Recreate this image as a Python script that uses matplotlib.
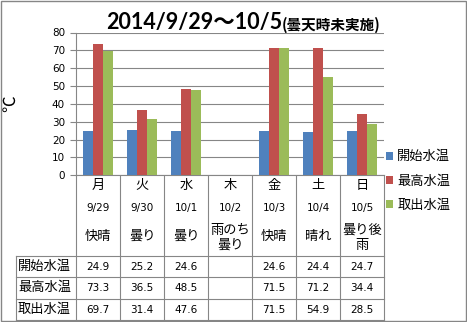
import numpy as np
import matplotlib.pyplot as plt
import matplotlib.transforms as mtransforms

plt.rcParams['font.family'] = ['Noto Sans CJK JP', 'DejaVu Sans']

# 2014/9/29 - 10/5 water temperatures (Thursday not measured)
days = ['月', '火', '水', '木', '金', '土', '日']
dates = ['9/29', '9/30', '10/1', '10/2', '10/3', '10/4', '10/5']
weather = ['快晴', '曇り', '曇り', '雨のち\n曇り', '快晴', '晴れ', '曇り後\n雨']
series_names = ['開始水温', '最高水温', '取出水温']
start_temp = [24.9, 25.2, 24.6, np.nan, 24.6, 24.4, 24.7]
max_temp = [73.3, 36.5, 48.5, np.nan, 71.5, 71.2, 34.4]
out_temp = [69.7, 31.4, 47.6, np.nan, 71.5, 54.9, 28.5]
colors = ['#4F81BD', '#C0504D', '#9BBB59']
yticks = [0, 10, 20, 30, 40, 50, 60, 70, 80]

W, H = 467, 322
grey = '#868686'
jp = 9.5   # japanese text size
num = 7.5  # number size

fig = plt.figure(figsize=(W / 100, H / 100), dpi=100)

# overlay in pixel coordinates for table, border and titles
ov = fig.add_axes([0, 0, 1, 1])
ov.set_xlim(0, W)
ov.set_ylim(H, 0)
ov.axis('off')

x0, x1, ytop, ybot = 76, 384, 32.5, 175.3
ax = fig.add_axes([x0 / W, 1 - ybot / H, (x1 - x0) / W, (ybot - ytop) / H])

x = np.arange(len(days))
w = 0.22
bars = []
for i, (vals, c) in enumerate(zip([start_temp, max_temp, out_temp], colors)):
    bars.append(ax.bar(x + (i - 1) * w, vals, w, color=c, zorder=3))

ax.set_xlim(-0.5, len(days) - 0.5)
ax.set_ylim(0, 80)
ax.set_yticks(yticks)
ax.set_xticks([])
ax.grid(axis='y', color=grey, lw=0.8, zorder=0)
for s in ['top', 'right']:
    ax.spines[s].set_visible(False)
for s in ['left', 'bottom']:
    ax.spines[s].set_color(grey)
    ax.spines[s].set_linewidth(0.8)
ax.tick_params(axis='y', length=4, width=0.8, color=grey, pad=4)
for lab in ax.get_yticklabels():
    lab.set_family('DejaVu Sans')
    lab.set_fontsize(num)

# table under the chart: x follows the bar axis, y in pixels
tr = mtransforms.blended_transform_factory(ax.transData, ov.transData)
row_y = [256, 277, 298.5, 320]
for k in range(len(days) + 1):
    ov.plot([k - 0.5, k - 0.5], [ybot, 320], color=grey, lw=0.8, transform=tr)
for yy in row_y:
    ov.plot([16, x1], [yy, yy], color=grey, lw=0.8)
ov.plot([16, 16], [256, 320], color=grey, lw=0.8)

for i in range(len(days)):
    ov.text(i, 185, days[i], transform=tr, ha='center', va='center', fontsize=jp)
    ov.text(i, 208, dates[i], transform=tr, ha='center', va='center',
            fontsize=num, family='DejaVu Sans')
    yy = 238 if '\n' in weather[i] else 236
    ov.text(i, yy, weather[i], transform=tr, ha='center', va='center',
            fontsize=jp, linespacing=1.2)

table_rows = [start_temp, max_temp, out_temp]
for r, (name, vals) in enumerate(zip(series_names, table_rows)):
    yc = (row_y[r] + row_y[r + 1]) / 2
    ov.text(18, yc, name, ha='left', va='center', fontsize=jp)
    for i, v in enumerate(vals):
        if not np.isnan(v):
            ov.text(i, yc + 0.5, f'{v:.1f}', transform=tr, ha='center', va='center',
                    fontsize=num, family='DejaVu Sans')

# legend
fig.legend(handles=bars, labels=series_names, loc='center left',
           bbox_to_anchor=(386 / W, 1 - 181 / H), frameon=False, fontsize=jp,
           handlelength=0.55, handleheight=0.55, handletextpad=0.3,
           labelspacing=0.85, borderaxespad=0, borderpad=0)

# title and unit
ov.text(282, 29, '2014/9/29～10/5', ha='right', va='baseline', fontsize=15.5,
        fontweight='bold', family=['Lato', 'Noto Sans CJK JP'])
ov.text(282, 29.5, '(曇天時未実施)', ha='left', va='baseline', fontsize=10.5,
        fontweight='bold')
ov.text(10, 104, '℃', ha='center', va='center', rotation=90, fontsize=12)

# outer frame
ov.add_patch(plt.Rectangle((1, 1), W - 2, H - 2, fill=False, ec=grey, lw=1))

fig.savefig('out.png', dpi=100)
